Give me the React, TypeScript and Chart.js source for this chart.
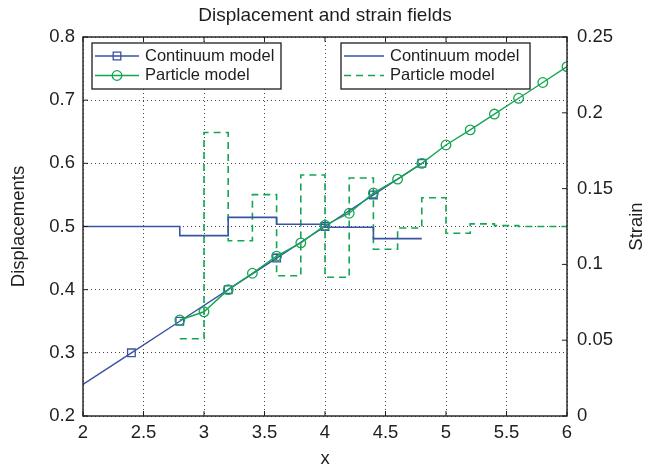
import React, { useEffect, useRef } from 'react';
import { Chart, registerables } from 'chart.js';

Chart.register(...registerables);

// ---- Data ----
const xTicks = [2, 2.5, 3, 3.5, 4, 4.5, 5, 5.5, 6];
const xTickLabels = ['2', '2.5', '3', '3.5', '4', '4.5', '5', '5.5', '6'];
const yTicks = [0.2, 0.3, 0.4, 0.5, 0.6, 0.7, 0.8];
const yTickLabels = ['0.2', '0.3', '0.4', '0.5', '0.6', '0.7', '0.8'];
const y1Ticks = [0, 0.05, 0.1, 0.15, 0.2, 0.25];
const y1TickLabels = ['0', '0.05', '0.1', '0.15', '0.2', '0.25'];

// Displacements (left axis)
const contX = [2, 2.4, 2.8, 3.2, 3.6, 4.0, 4.4, 4.8];
const contU = [0.25, 0.3, 0.35, 0.4, 0.45, 0.5, 0.55, 0.6];
const partX = [2.8, 3.0, 3.2, 3.4, 3.6, 3.8, 4.0, 4.2, 4.4, 4.6, 4.8, 5.0, 5.2, 5.4, 5.6, 5.8, 6.0];
const partU = [0.352, 0.365, 0.4, 0.426, 0.453, 0.474, 0.502, 0.521, 0.553, 0.575, 0.6, 0.629, 0.653, 0.678, 0.703, 0.728, 0.753];

// Strains (right axis), step functions: value holds from x[i] to x[i+1]
const contStrainX = [2, 2.4, 2.8, 3.2, 3.6, 4.0, 4.4, 4.8];
const contStrain = [0.125, 0.125, 0.119, 0.131, 0.1265, 0.1245, 0.117, 0.117];
const partStrainX = [2.8, 3.0, 3.2, 3.4, 3.6, 3.8, 4.0, 4.2, 4.4, 4.6, 4.8, 5.0, 5.2, 5.4, 5.6, 5.8, 6.0];
const partStrain = [0.051, 0.187, 0.1156, 0.146, 0.0925, 0.159, 0.0915, 0.157, 0.110, 0.124, 0.144, 0.1205, 0.1267, 0.1256, 0.125, 0.125, 0.125];

const titleText = 'Displacement and strain fields';
const xTitle = 'x';
const yTitle = 'Displacements';
const y1Title = 'Strain';
const legendLabels = ['Continuum model', 'Particle model'];

const BLUE = '#3a53a5';
const GREEN = '#15a652';
const FONT = '"Liberation Sans", Arial, Helvetica, sans-serif';
const INK = '#1e1e1e';
const TICK_SIZE = 18.5;

const pts = (xs: number[], ys: number[]) => xs.map((x, i) => ({ x, y: ys[i] }));

function drawMarker(ctx: CanvasRenderingContext2D, style: string, x: number, y: number, color: string) {
  ctx.save();
  ctx.strokeStyle = color;
  ctx.lineWidth = 1.3;
  ctx.setLineDash([]);
  ctx.beginPath();
  if (style === 'rect') {
    ctx.rect(x - 3.8, y - 3.8, 7.6, 7.6);
  } else {
    ctx.arc(x, y, 4.8, 0, Math.PI * 2);
  }
  ctx.stroke();
  ctx.restore();
}

const decorPlugin = {
  id: 'decor',
  afterDraw(chart: any) {
    const ctx: CanvasRenderingContext2D = chart.ctx;
    const a = chart.chartArea;
    const xs = chart.scales.x;
    const ys = chart.scales.y;
    const y1s = chart.scales.y1;
    ctx.save();
    // frame
    ctx.strokeStyle = INK;
    ctx.lineWidth = 1.4;
    ctx.setLineDash([]);
    ctx.strokeRect(a.left, a.top, a.right - a.left, a.bottom - a.top);
    // inward ticks
    ctx.lineWidth = 1;
    ctx.beginPath();
    xTicks.forEach((v) => {
      const p = xs.getPixelForValue(v);
      ctx.moveTo(p, a.bottom);
      ctx.lineTo(p, a.bottom - 5);
      ctx.moveTo(p, a.top);
      ctx.lineTo(p, a.top + 5);
    });
    yTicks.forEach((v) => {
      const p = ys.getPixelForValue(v);
      ctx.moveTo(a.left, p);
      ctx.lineTo(a.left + 5, p);
    });
    y1Ticks.forEach((v) => {
      const p = y1s.getPixelForValue(v);
      ctx.moveTo(a.right, p);
      ctx.lineTo(a.right - 5, p);
    });
    ctx.stroke();

    // titles
    ctx.fillStyle = INK;
    ctx.textAlign = 'center';
    ctx.textBaseline = 'middle';
    ctx.font = `19px ${FONT}`;
    ctx.fillText(titleText, (a.left + a.right) / 2, 16);
    ctx.font = `${TICK_SIZE}px ${FONT}`;
    ctx.fillText(xTitle, (a.left + a.right) / 2, 459);
    ctx.save();
    ctx.translate(19, (a.top + a.bottom) / 2);
    ctx.rotate(-Math.PI / 2);
    ctx.fillText(yTitle, 0, 0);
    ctx.restore();
    ctx.save();
    ctx.translate(637, (a.top + a.bottom) / 2);
    ctx.rotate(-Math.PI / 2);
    ctx.fillText(y1Title, 0, 0);
    ctx.restore();

    // legends
    const boxes = [
      { x: 92, y: 43, w: 189, h: 46, lineLen: 44, items: [
        { label: legendLabels[0], color: BLUE, dash: [] as number[], marker: 'rect' },
        { label: legendLabels[1], color: GREEN, dash: [] as number[], marker: 'circle' },
      ] },
      { x: 341, y: 43, w: 189, h: 46, lineLen: 40, items: [
        { label: legendLabels[0], color: BLUE, dash: [] as number[], marker: '' },
        { label: legendLabels[1], color: GREEN, dash: [7, 5], marker: '' },
      ] },
    ];
    boxes.forEach((b) => {
      ctx.fillStyle = '#ffffff';
      ctx.fillRect(b.x, b.y, b.w, b.h);
      ctx.strokeStyle = INK;
      ctx.lineWidth = 1.3;
      ctx.setLineDash([]);
      ctx.strokeRect(b.x, b.y, b.w, b.h);
      b.items.forEach((it, i) => {
        const ry = b.y + 13 + i * 19.5;
        const x0 = b.x + 3;
        const x1 = x0 + b.lineLen;
        ctx.strokeStyle = it.color;
        ctx.lineWidth = 1.4;
        ctx.setLineDash(it.dash);
        ctx.beginPath();
        ctx.moveTo(x0, ry);
        ctx.lineTo(x1, ry);
        ctx.stroke();
        ctx.setLineDash([]);
        if (it.marker) drawMarker(ctx, it.marker, (x0 + x1) / 2, ry, it.color);
        ctx.fillStyle = INK;
        ctx.font = `16.5px ${FONT}`;
        ctx.textAlign = 'left';
        ctx.textBaseline = 'middle';
        ctx.fillText(it.label, x1 + 6, ry);
      });
    });
    ctx.restore();
  },
};

export default function App() {
  const ref = useRef<HTMLCanvasElement>(null);
  useEffect(() => {
    document.body.style.margin = '0';
    const canvas = ref.current!;
    const chart = new Chart(canvas, {
      type: 'line',
      data: {
        datasets: [
          {
            label: legendLabels[1] + ' displacement',
            data: pts(partX, partU),
            yAxisID: 'y',
            borderColor: GREEN,
            borderWidth: 1.4,
            pointStyle: 'circle',
            pointRadius: 4.8,
            pointBorderWidth: 1.3,
            pointBorderColor: GREEN,
            pointBackgroundColor: 'rgba(0,0,0,0)',
            fill: false,
          },
          {
            label: legendLabels[0] + ' displacement',
            data: pts(contX, contU),
            yAxisID: 'y',
            borderColor: BLUE,
            borderWidth: 1.4,
            pointStyle: 'rect',
            pointRadius: contX.map((_, i) => (i === 0 ? 0 : 5.4)),
            pointBorderWidth: 1.3,
            pointBorderColor: BLUE,
            pointBackgroundColor: 'rgba(0,0,0,0)',
            fill: false,
          },
          {
            label: legendLabels[0] + ' strain',
            data: pts(contStrainX, contStrain),
            yAxisID: 'y1',
            borderColor: BLUE,
            borderWidth: 1.6,
            stepped: true,
            pointRadius: 0,
            fill: false,
          },
          {
            label: legendLabels[1] + ' strain',
            data: pts(partStrainX, partStrain),
            yAxisID: 'y1',
            borderColor: GREEN,
            borderWidth: 1.6,
            borderDash: [7, 5],
            stepped: true,
            pointRadius: 0,
            fill: false,
          },
        ],
      },
      options: {
        responsive: false,
        animation: false,
        layout: { padding: { top: 37, left: 0, right: 0, bottom: 0 } },
        plugins: {
          legend: { display: false },
          title: { display: false },
          tooltip: { enabled: false },
        },
        scales: {
          x: {
            type: 'linear',
            min: 2,
            max: 6,
            afterBuildTicks: (s: any) => { s.ticks = xTicks.map((v) => ({ value: v })); },
            afterFit: (s: any) => { s.height = 54; },
            ticks: {
              callback: (_v: any, i: number) => xTickLabels[i],
              font: { family: FONT, size: TICK_SIZE },
              color: INK,
              padding: 6,
              maxRotation: 0,
            },
            grid: { color: '#444', lineWidth: 1, drawTicks: false },
            border: { display: false, dash: [1, 3] },
          },
          y: {
            type: 'linear',
            position: 'left',
            min: 0.2,
            max: 0.8,
            afterBuildTicks: (s: any) => { s.ticks = yTicks.map((v) => ({ value: v })); },
            afterFit: (s: any) => { s.width = 83; },
            ticks: {
              callback: (_v: any, i: number) => yTickLabels[i],
              font: { family: FONT, size: TICK_SIZE },
              color: INK,
              padding: 8,
            },
            grid: { color: '#444', lineWidth: 1, drawTicks: false },
            border: { display: false, dash: [1, 3] },
          },
          y1: {
            type: 'linear',
            position: 'right',
            min: 0,
            max: 0.25,
            afterBuildTicks: (s: any) => { s.ticks = y1Ticks.map((v) => ({ value: v })); },
            afterFit: (s: any) => { s.width = 79; },
            ticks: {
              callback: (_v: any, i: number) => y1TickLabels[i],
              font: { family: FONT, size: TICK_SIZE },
              color: INK,
              padding: 10,
            },
            grid: { display: false, drawTicks: false },
            border: { display: false },
          },
        },
      },
      plugins: [decorPlugin],
    } as any);
    return () => chart.destroy();
  }, []);
  return (
    <div style={{ width: 646, height: 470 }}>
      <canvas ref={ref} width={646} height={470} style={{ display: 'block' }} />
    </div>
  );
}
